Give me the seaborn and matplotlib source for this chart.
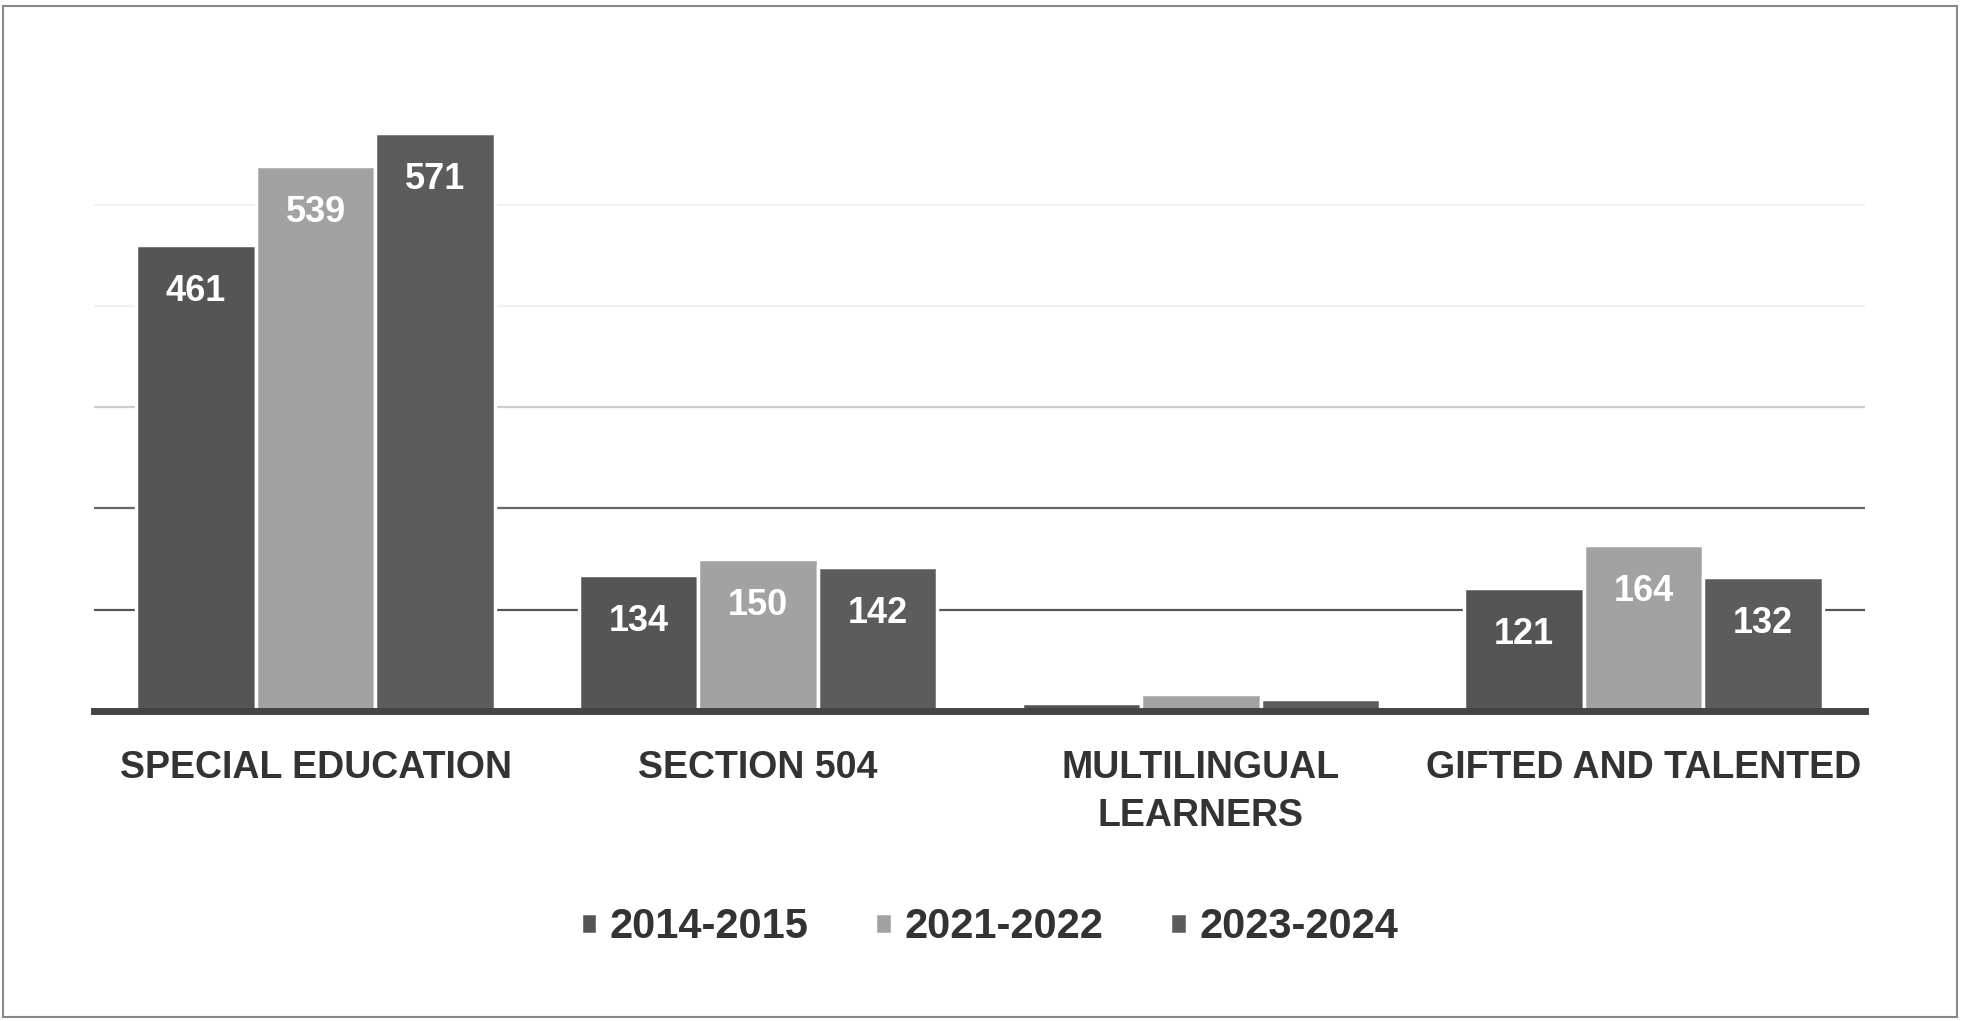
import matplotlib.pyplot as plt
import pandas as pd
import seaborn as sns
from matplotlib.patches import Rectangle

# Data
categories = ['SPECIAL EDUCATION', 'SECTION 504', 'MULTILINGUAL\nLEARNERS', 'GIFTED AND TALENTED']
years = ['2014-2015', '2021-2022', '2023-2024']
values_2014 = [461, 134, 8, 121]
values_2021 = [539, 150, 16, 164]
values_2023 = [571, 142, 11, 132]

df = pd.DataFrame({'program': categories,
                   '2014-2015': values_2014,
                   '2021-2022': values_2021,
                   '2023-2024': values_2023})
df = df.melt(id_vars='program', var_name='year', value_name='count')

sns.set_style('white')
plt.rcParams['font.family'] = ['Liberation Sans', 'DejaVu Sans']

palette = {'2014-2015': '#555555', '2021-2022': '#a2a2a2', '2023-2024': '#5c5c5c'}

fig = plt.figure(figsize=(19.63, 10.21), dpi=100)
ax = fig.add_axes([0.048, 0.304, 0.902, 0.594])

sns.barplot(data=df, x='program', y='count', hue='year', hue_order=years,
            order=categories, palette=palette, width=0.81, edgecolor='white',
            linewidth=2.5, saturation=1, ax=ax)

ax.set_ylim(0, 600)
ax.set_xlim(-0.5, 3.5)
ax.set_yticks(range(0, 601, 100))
ax.set_yticklabels([])
ax.tick_params(axis='y', length=0)
ax.grid(axis='y', zorder=0)
ax.set_axisbelow(True)
grid_colors = ['#ffffff', '#555555', '#666666', '#cfcfcf', '#f0f0f0', '#f2f2f2', '#ffffff']
for line, c in zip(ax.yaxis.get_gridlines(), grid_colors):
    line.set_color(c)
    line.set_linewidth(1.6)

for s in ['top', 'right', 'left']:
    ax.spines[s].set_visible(False)
ax.spines['bottom'].set_color('#444444')
ax.spines['bottom'].set_linewidth(5)
ax.spines['bottom'].set_zorder(5)

# value labels inside the bars
for cont in ax.containers:
    labels = [f'{v:.0f}' if v > 50 else '' for v in cont.datavalues]
    ax.bar_label(cont, labels=labels, padding=-46, color='white',
                 fontsize=26, fontweight='bold')

ax.set_xlabel('')
ax.set_ylabel('')
ax.tick_params(axis='x', length=0, pad=28, labelsize=27, labelcolor='#333333')
for t in ax.get_xticklabels():
    t.set_fontweight('bold')
    t.set_linespacing(1.45)

ax.legend(loc='center', bbox_to_anchor=(0.504, 0.092), bbox_transform=fig.transFigure,
          ncol=3, frameon=False, handlelength=0.4, handleheight=0.4,
          handletextpad=0.3, columnspacing=1.6,
          prop={'size': 30, 'weight': 'bold'}, labelcolor='#333333')

# scanned page frame
fig.patches.append(Rectangle((0.0015, 0.004), 0.9955, 0.99, transform=fig.transFigure,
                             fill=False, edgecolor='#888888', linewidth=1.5))

fig.savefig('out.png', dpi=100)
